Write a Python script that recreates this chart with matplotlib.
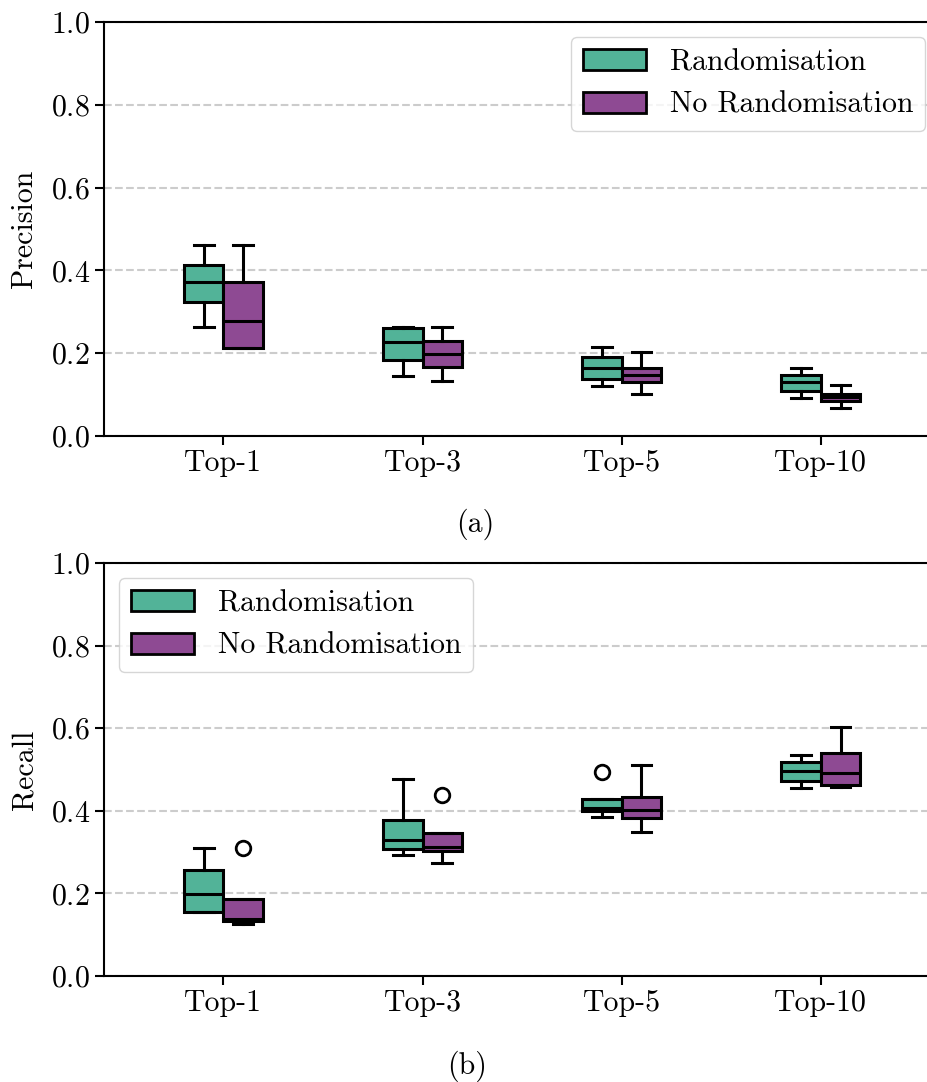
import matplotlib
matplotlib.use("Agg")
import matplotlib.pyplot as plt
from matplotlib.patches import Patch

plt.rcParams["font.family"] = "cmr10"
plt.rcParams["mathtext.fontset"] = "cm"
plt.rcParams["axes.formatter.use_mathtext"] = True

categories = ["Top-1", "Top-3", "Top-5", "Top-10"]
series_names = ["Randomisation", "No Randomisation"]

# precision, randomisation
prec_rand_lo = [0.264, 0.145, 0.121, 0.091]
prec_rand_q1 = [0.324, 0.183, 0.137, 0.109]
prec_rand_med = [0.371, 0.227, 0.164, 0.130]
prec_rand_q3 = [0.414, 0.260, 0.192, 0.1475]
prec_rand_hi = [0.462, 0.264, 0.2145, 0.164]
prec_rand_fliers = [[], [], [], []]

# precision, no randomisation
prec_norand_lo = [0.213, 0.133, 0.102, 0.068]
prec_norand_q1 = [0.213, 0.167, 0.130, 0.085]
prec_norand_med = [0.279, 0.197, 0.1475, 0.095]
prec_norand_q3 = [0.372, 0.229, 0.165, 0.101]
prec_norand_hi = [0.462, 0.264, 0.202, 0.123]
prec_norand_fliers = [[], [], [], []]

# recall, randomisation
rec_rand_lo = [0.155, 0.292, 0.384, 0.456]
rec_rand_q1 = [0.156, 0.308, 0.399, 0.472]
rec_rand_med = [0.199, 0.329, 0.407, 0.496]
rec_rand_q3 = [0.257, 0.378, 0.429, 0.517]
rec_rand_hi = [0.310, 0.476, 0.429, 0.534]
rec_rand_fliers = [[], [], [0.494], []]

# recall, no randomisation
rec_norand_lo = [0.127, 0.274, 0.348, 0.457]
rec_norand_q1 = [0.133, 0.303, 0.382, 0.463]
rec_norand_med = [0.138, 0.313, 0.403, 0.491]
rec_norand_q3 = [0.187, 0.345, 0.434, 0.540]
rec_norand_hi = [0.187, 0.345, 0.512, 0.603]
rec_norand_fliers = [[0.310], [0.438], [], []]

colors = ["#52b398", "#8e4a93"]
LW = 2.2
FS = 21.5


def make_stats(lo, q1, med, q3, hi, fliers):
    return [dict(whislo=a, q1=b, med=c, q3=d, whishi=e, fliers=f)
            for a, b, c, d, e, f in zip(lo, q1, med, q3, hi, fliers)]


def draw_panel(ax, groups, ylabel, legend_loc):
    offsets = [-0.1, 0.1]
    for stats, off, col in zip(groups, offsets, colors):
        pos = [i + off for i in range(len(categories))]
        ax.bxp(stats, positions=pos, widths=0.2, patch_artist=True,
               manage_ticks=False,
               boxprops=dict(facecolor=col, edgecolor="black", linewidth=LW),
               medianprops=dict(color="black", linewidth=LW),
               whiskerprops=dict(color="black", linewidth=LW),
               capprops=dict(color="black", linewidth=LW),
               flierprops=dict(marker="o", markerfacecolor="none",
                               markeredgecolor="black", markersize=10.5,
                               markeredgewidth=2.0))
    ax.set_xlim(-0.6, 3.6)
    ax.set_ylim(0, 1.0)
    ax.set_yticks([0.0, 0.2, 0.4, 0.6, 0.8, 1.0])
    ax.set_xticks(range(len(categories)))
    ax.set_xticklabels(categories)
    ax.yaxis.grid(True, linestyle="--", color="#cccccc", linewidth=1.5)
    ax.set_axisbelow(True)
    ax.set_ylabel(ylabel, fontsize=FS, labelpad=9)
    ax.tick_params(labelsize=FS, length=6.5, width=1.5)
    for s in ax.spines.values():
        s.set_linewidth(1.5)
    handles = [Patch(facecolor=c, edgecolor="black", linewidth=2.0) for c in colors]
    ax.legend(handles, series_names, loc=legend_loc, fontsize=FS,
              handlelength=2.1, handletextpad=0.8)


fig = plt.figure(figsize=(9.28, 10.82), dpi=100)
ax1 = fig.add_axes([0.1121, 0.5970, 0.9009, 0.3826])
ax2 = fig.add_axes([0.1121, 0.0980, 0.9009, 0.3817])

draw_panel(ax1,
           [make_stats(prec_rand_lo, prec_rand_q1, prec_rand_med, prec_rand_q3, prec_rand_hi, prec_rand_fliers),
            make_stats(prec_norand_lo, prec_norand_q1, prec_norand_med, prec_norand_q3, prec_norand_hi, prec_norand_fliers)],
           "Precision", "upper right")
draw_panel(ax2,
           [make_stats(rec_rand_lo, rec_rand_q1, rec_rand_med, rec_rand_q3, rec_rand_hi, rec_rand_fliers),
            make_stats(rec_norand_lo, rec_norand_q1, rec_norand_med, rec_norand_q3, rec_norand_hi, rec_norand_fliers)],
           "Recall", "upper left")

fig.text(0.512, 1 - 524 / 1082, "(a)", ha="center", va="center", fontsize=FS)
fig.text(0.503, 1 - 1066 / 1082, "(b)", ha="center", va="center", fontsize=FS)

fig.savefig("out.png", dpi=100)
